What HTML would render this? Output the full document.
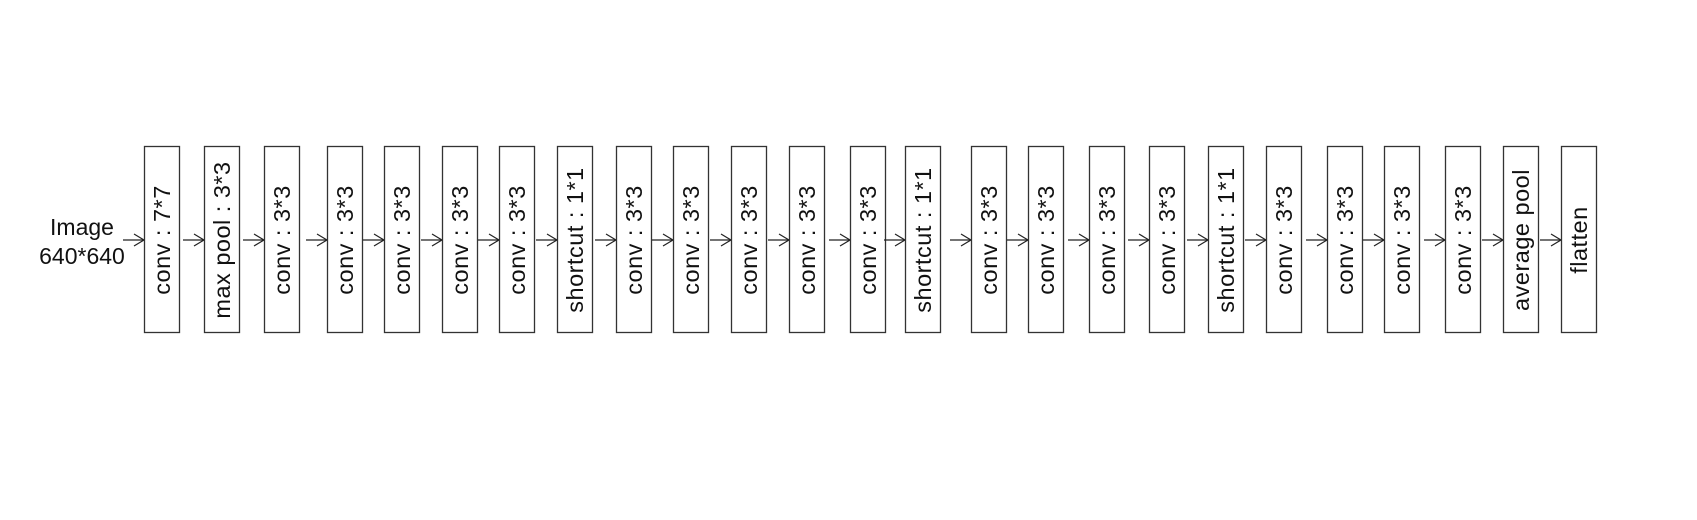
<!DOCTYPE html>
<html><head><meta charset="utf-8"><style>html,body{margin:0;padding:0;background:#fff;}svg{display:block}</style></head>
<body>
<svg width="1697" height="520" viewBox="0 0 1697 520" xmlns="http://www.w3.org/2000/svg" font-family="'Liberation Sans', 'DejaVu Sans', sans-serif">
<defs>
<g id="ar"><line x1="-21" y1="240" x2="0" y2="240" stroke="#222" stroke-width="1.2"/><polyline points="-10,234 0,240 -10,246" fill="none" stroke="#222" stroke-width="1.2"/></g>
<rect id="bx" x="0.5" y="146.5" width="35" height="186" fill="#fff" stroke="#333" stroke-width="1.3"/>
</defs>
<rect width="1697" height="520" fill="#fff"/>
<text x="82" y="235" font-size="23" text-anchor="middle" fill="#111">Image</text>
<text x="82" y="264" font-size="23" text-anchor="middle" fill="#111">640*640</text>
<g fill="#111" font-size="23.5" letter-spacing="0.5" text-anchor="middle">
<g transform="translate(144,0)"><use href="#ar"/><use href="#bx"/><text transform="translate(26,240) rotate(-90)">conv : 7*7</text></g>
<g transform="translate(204,0)"><use href="#ar"/><use href="#bx"/><text transform="translate(26,240) rotate(-90)">max pool : 3*3</text></g>
<g transform="translate(264,0)"><use href="#ar"/><use href="#bx"/><text transform="translate(26,240) rotate(-90)">conv : 3*3</text></g>
<g transform="translate(327,0)"><use href="#ar"/><use href="#bx"/><text transform="translate(26,240) rotate(-90)">conv : 3*3</text></g>
<g transform="translate(384,0)"><use href="#ar"/><use href="#bx"/><text transform="translate(26,240) rotate(-90)">conv : 3*3</text></g>
<g transform="translate(442,0)"><use href="#ar"/><use href="#bx"/><text transform="translate(26,240) rotate(-90)">conv : 3*3</text></g>
<g transform="translate(499,0)"><use href="#ar"/><use href="#bx"/><text transform="translate(26,240) rotate(-90)">conv : 3*3</text></g>
<g transform="translate(557,0)"><use href="#ar"/><use href="#bx"/><text transform="translate(26,240) rotate(-90)">shortcut : 1*1</text></g>
<g transform="translate(616,0)"><use href="#ar"/><use href="#bx"/><text transform="translate(26,240) rotate(-90)">conv : 3*3</text></g>
<g transform="translate(673,0)"><use href="#ar"/><use href="#bx"/><text transform="translate(26,240) rotate(-90)">conv : 3*3</text></g>
<g transform="translate(731,0)"><use href="#ar"/><use href="#bx"/><text transform="translate(26,240) rotate(-90)">conv : 3*3</text></g>
<g transform="translate(789,0)"><use href="#ar"/><use href="#bx"/><text transform="translate(26,240) rotate(-90)">conv : 3*3</text></g>
<g transform="translate(850,0)"><use href="#ar"/><use href="#bx"/><text transform="translate(26,240) rotate(-90)">conv : 3*3</text></g>
<g transform="translate(905,0)"><use href="#ar"/><use href="#bx"/><text transform="translate(26,240) rotate(-90)">shortcut : 1*1</text></g>
<g transform="translate(971,0)"><use href="#ar"/><use href="#bx"/><text transform="translate(26,240) rotate(-90)">conv : 3*3</text></g>
<g transform="translate(1028,0)"><use href="#ar"/><use href="#bx"/><text transform="translate(26,240) rotate(-90)">conv : 3*3</text></g>
<g transform="translate(1089,0)"><use href="#ar"/><use href="#bx"/><text transform="translate(26,240) rotate(-90)">conv : 3*3</text></g>
<g transform="translate(1149,0)"><use href="#ar"/><use href="#bx"/><text transform="translate(26,240) rotate(-90)">conv : 3*3</text></g>
<g transform="translate(1208,0)"><use href="#ar"/><use href="#bx"/><text transform="translate(26,240) rotate(-90)">shortcut : 1*1</text></g>
<g transform="translate(1266,0)"><use href="#ar"/><use href="#bx"/><text transform="translate(26,240) rotate(-90)">conv : 3*3</text></g>
<g transform="translate(1327,0)"><use href="#ar"/><use href="#bx"/><text transform="translate(26,240) rotate(-90)">conv : 3*3</text></g>
<g transform="translate(1384,0)"><use href="#ar"/><use href="#bx"/><text transform="translate(26,240) rotate(-90)">conv : 3*3</text></g>
<g transform="translate(1445,0)"><use href="#ar"/><use href="#bx"/><text transform="translate(26,240) rotate(-90)">conv : 3*3</text></g>
<g transform="translate(1503,0)"><use href="#ar"/><use href="#bx"/><text transform="translate(26,240) rotate(-90)">average pool</text></g>
<g transform="translate(1561,0)"><use href="#ar"/><use href="#bx"/><text transform="translate(26,240) rotate(-90)">flatten</text></g>
</g>
</svg>
</body></html>
